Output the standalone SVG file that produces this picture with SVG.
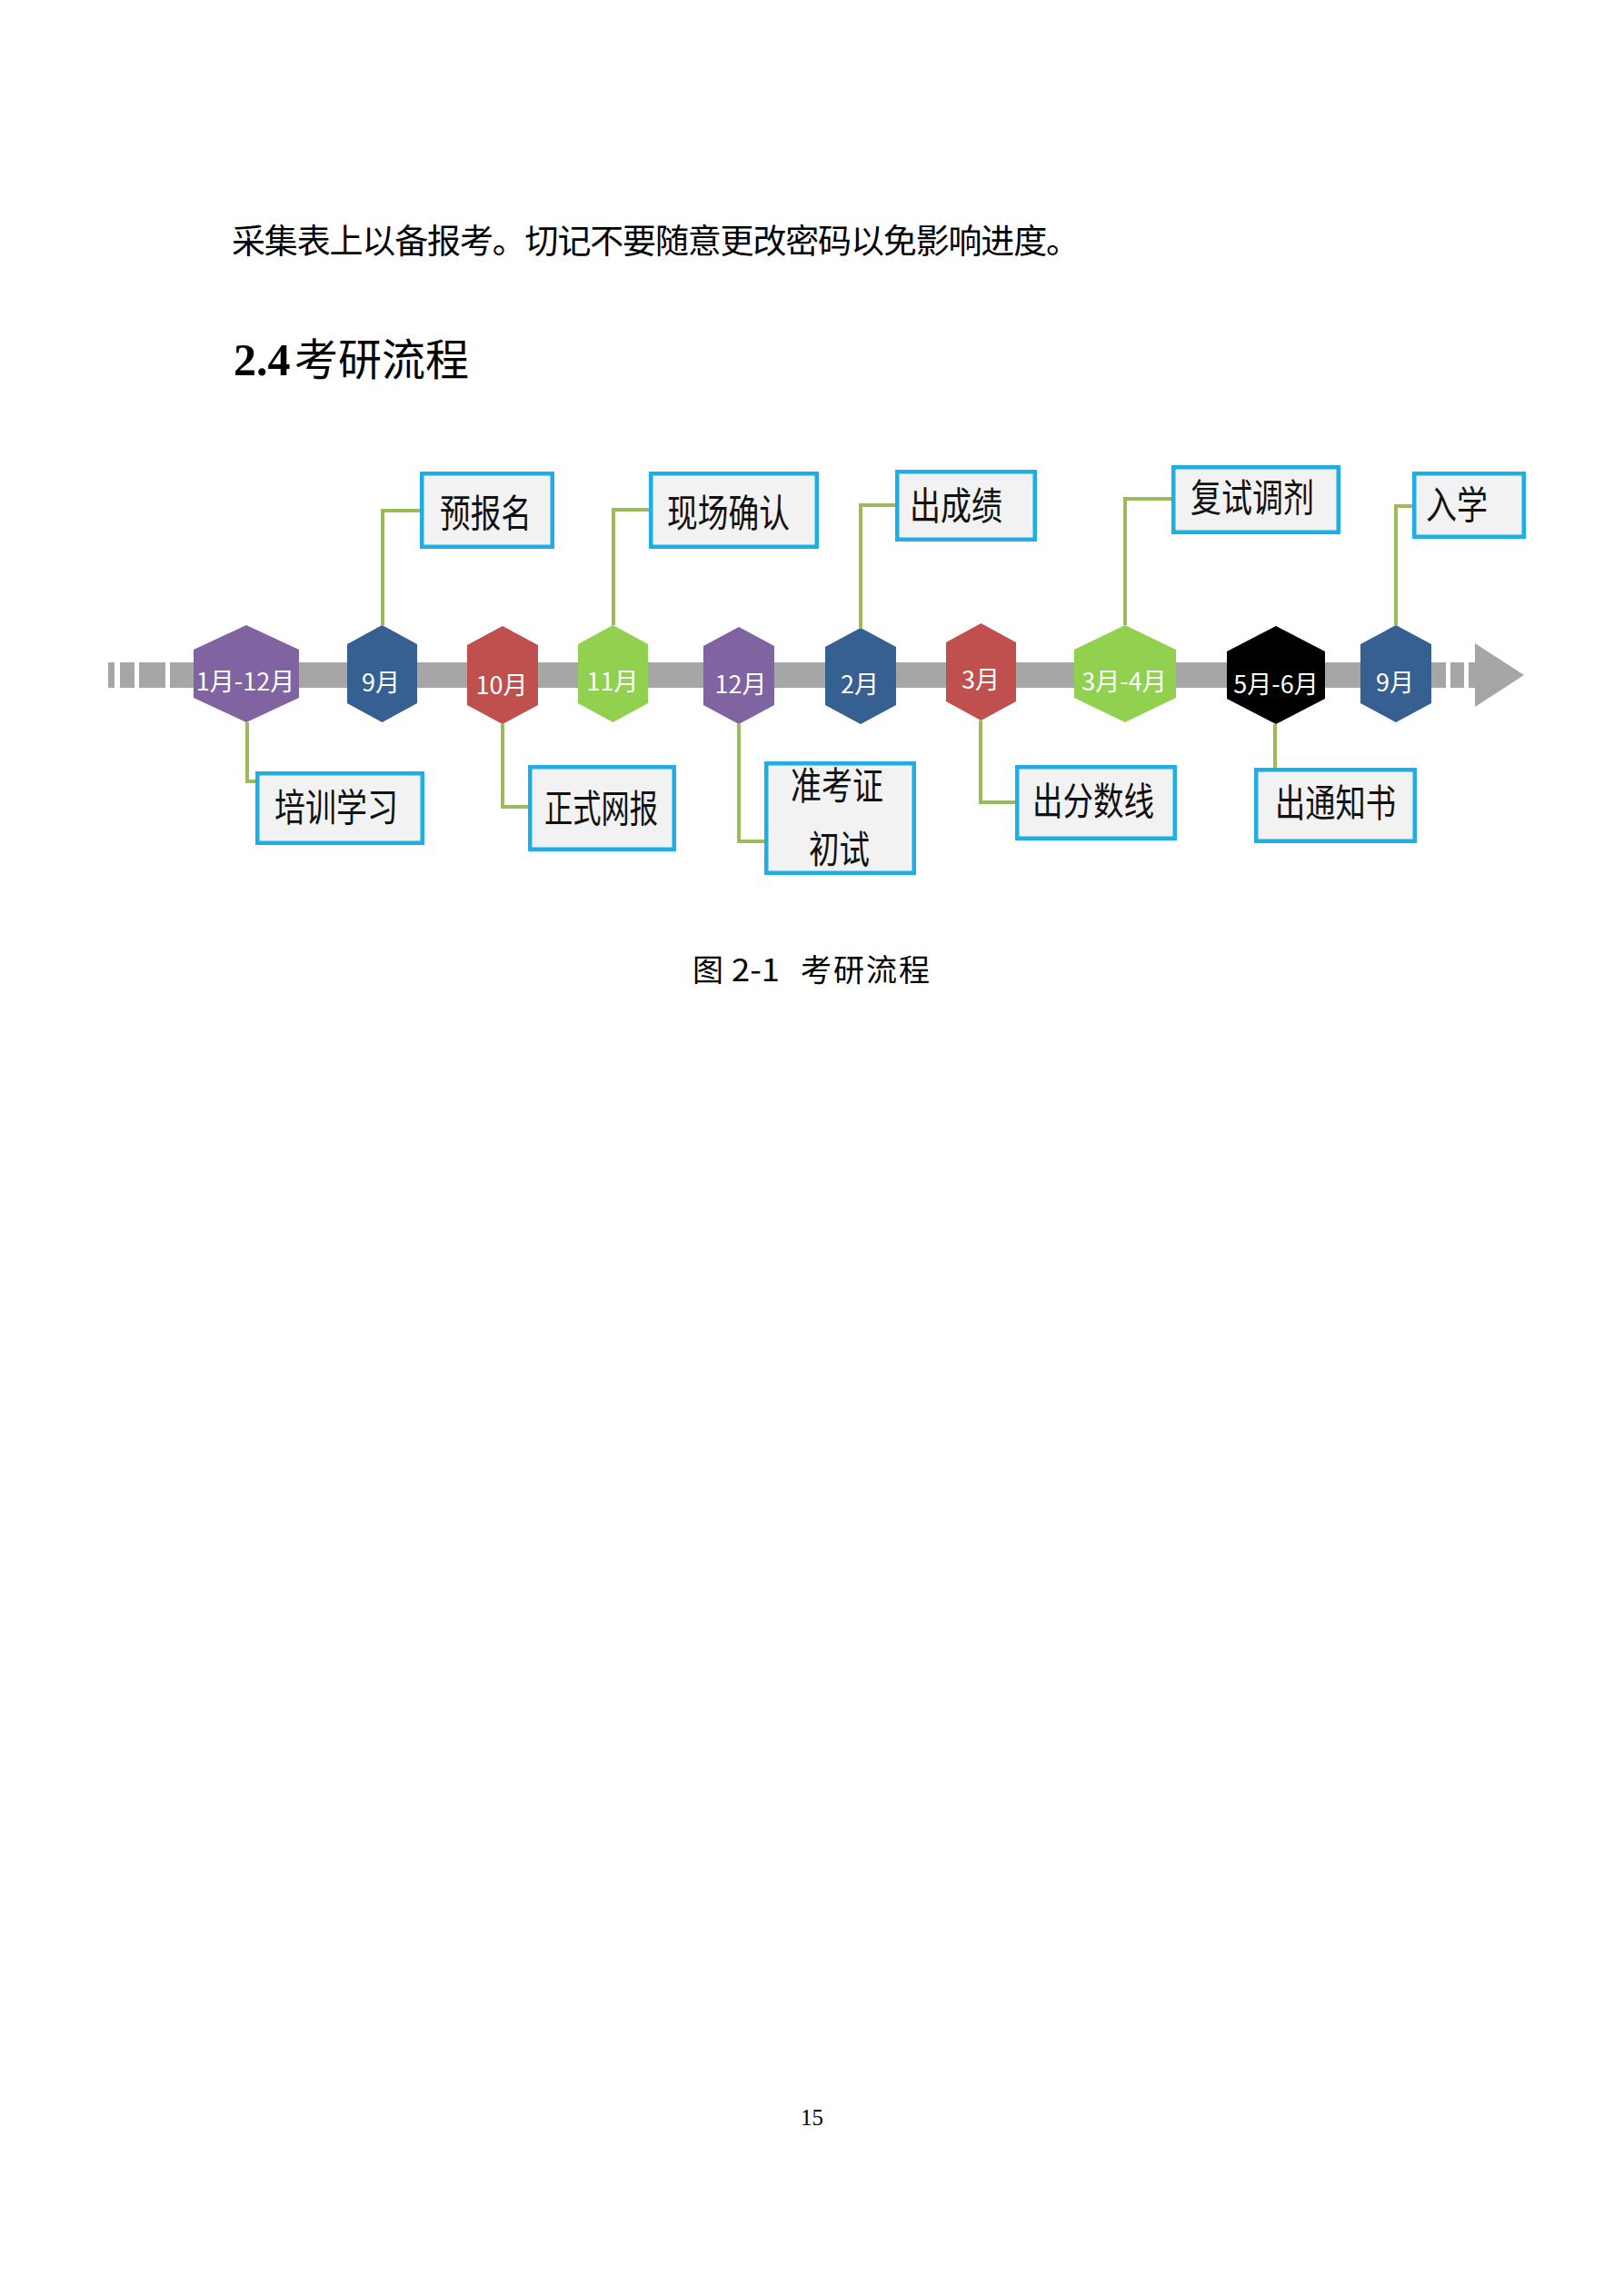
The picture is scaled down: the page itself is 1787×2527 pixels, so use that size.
<svg xmlns="http://www.w3.org/2000/svg" width="1787" height="2527" viewBox="0 0 1787 2527">
<style>
.body{font-family:"Noto Sans CJK SC","Noto Sans",sans-serif;fill:#000}
.bar{fill:#A6A6A6}
.conn{fill:none;stroke:#9BBB59;stroke-width:4}
.box{fill:#F2F2F2;stroke:#1EADE4;stroke-width:4.5}
.bt{font-family:"Noto Sans CJK SC","Noto Sans",sans-serif;font-size:42px;fill:#111}
.ht{font-family:"Noto Sans CJK SC","Noto Sans",sans-serif;font-size:27px;fill:#fff;text-anchor:middle}
.purple{fill:#8064A2}.blue{fill:#366092}.red{fill:#C0504D}.green{fill:#92D050}.black{fill:#000}
</style>
<rect width="1787" height="2527" fill="#fff"/>
<text class="body" x="255" y="279" font-size="37" textLength="933" lengthAdjust="spacing">采集表上以备报考。切记不要随意更改密码以免影响进度。</text>
<text x="257" y="413"><tspan font-family="'Liberation Serif',serif" font-weight="bold" font-size="50">2.4</tspan><tspan x="324" font-family="'Noto Sans CJK SC',sans-serif" font-size="48">考研流程</tspan></text>

<g id="timeline">
<rect class="bar" x="119" y="729" width="7" height="28"/>
<rect class="bar" x="132" y="729" width="16" height="28"/>
<rect class="bar" x="153" y="729" width="29" height="28"/>
<rect class="bar" x="187" y="729" width="1404" height="28"/>
<rect class="bar" x="1596" y="729" width="15" height="28"/>
<rect class="bar" x="1616" y="729" width="9" height="28"/>
<polygon class="bar" points="1623,708 1677,743 1623,778"/>
</g>

<g id="connectors">
<path class="conn" d="M272 795V860H283"/>
<path class="conn" d="M421 688V562H464"/>
<path class="conn" d="M553 797V888H583"/>
<path class="conn" d="M675 688V561H716"/>
<path class="conn" d="M813 797V926H843"/>
<path class="conn" d="M947 691V556H987"/>
<path class="conn" d="M1079 793V883H1119"/>
<path class="conn" d="M1238 688V549H1291"/>
<path class="conn" d="M1403 797V847"/>
<path class="conn" d="M1536 688V557H1556"/>
</g>

<g id="m1"><polygon class="purple" points="271,688 329,715 329,768 271,795 213,768 213,715"/><text class="ht" x="270" y="760">1月-12月</text></g>
<g id="m2"><polygon class="blue" points="420.5,688 459,709 459,774 420.5,795 382,774 382,709"/><text class="ht" x="419" y="761">9月</text></g>
<g id="m3"><polygon class="red" points="553,689 592,710 592,776 553,797 514,776 514,710"/><text class="ht" x="552" y="764">10月</text></g>
<g id="m4"><polygon class="green" points="674.5,688 713,709 713,774 674.5,795 636,774 636,709"/><text class="ht" x="674" y="760">11月</text></g>
<g id="m5"><polygon class="purple" points="813,690 852,711 852,776 813,797 774,776 774,711"/><text class="ht" x="815" y="763">12月</text></g>
<g id="m6"><polygon class="blue" points="947,691 986,712 986,776 947,797 908,776 908,712"/><text class="ht" x="946" y="763">2月</text></g>
<g id="m7"><polygon class="red" points="1079.5,686 1118,707 1118,772 1079.5,793 1041,772 1041,707"/><text class="ht" x="1079" y="758">3月</text></g>
<g id="m8"><polygon class="green" points="1238,688 1294,715 1294,768 1238,795 1182,768 1182,715"/><text class="ht" x="1237" y="760">3月-4月</text></g>
<g id="m9"><polygon class="black" points="1404,689 1458,717 1458,769 1404,797 1350,769 1350,717"/><text class="ht" x="1404" y="763">5月-6月</text></g>
<g id="m10"><polygon class="blue" points="1536,688 1575,709 1575,774 1536,795 1497,774 1497,709"/><text class="ht" x="1535" y="761">9月</text></g>

<g id="b1"><rect class="box" x="464.25" y="521.25" width="143.5" height="80.5"/><text class="bt" x="484" y="580" textLength="101" lengthAdjust="spacingAndGlyphs">预报名</text></g>
<g id="b2"><rect class="box" x="283.25" y="851.25" width="181.5" height="76.5"/><text class="bt" x="302" y="904" textLength="136" lengthAdjust="spacingAndGlyphs">培训学习</text></g>
<g id="b3"><rect class="box" x="583.25" y="844.25" width="158.5" height="90.5"/><text class="bt" x="599" y="905" textLength="125" lengthAdjust="spacingAndGlyphs">正式网报</text></g>
<g id="b4"><rect class="box" x="716.25" y="521.25" width="182.5" height="80.5"/><text class="bt" x="734" y="580" textLength="135" lengthAdjust="spacingAndGlyphs">现场确认</text></g>
<g id="b5"><rect class="box" x="843.25" y="840.25" width="162.5" height="120.5"/><text class="bt" x="870" y="880" textLength="102" lengthAdjust="spacingAndGlyphs">准考证</text><text class="bt" x="890" y="950" textLength="67" lengthAdjust="spacingAndGlyphs">初试</text></g>
<g id="b6"><rect class="box" x="987.25" y="519.25" width="151.5" height="74.5"/><text class="bt" x="1001" y="572" textLength="102" lengthAdjust="spacingAndGlyphs">出成绩</text></g>
<g id="b7"><rect class="box" x="1119.25" y="844.25" width="173.5" height="78.5"/><text class="bt" x="1136" y="897" textLength="134" lengthAdjust="spacingAndGlyphs">出分数线</text></g>
<g id="b8"><rect class="box" x="1291.25" y="514.25" width="181.5" height="71.5"/><text class="bt" x="1310" y="563" textLength="136" lengthAdjust="spacingAndGlyphs">复试调剂</text></g>
<g id="b9"><rect class="box" x="1382.25" y="847.25" width="174.5" height="78.5"/><text class="bt" x="1403" y="899" textLength="133" lengthAdjust="spacingAndGlyphs">出通知书</text></g>
<g id="b10"><rect class="box" x="1556.25" y="521.25" width="120.5" height="69.5"/><text class="bt" x="1569" y="571" textLength="68" lengthAdjust="spacingAndGlyphs">入学</text></g>

<text class="body" y="1080" font-size="34"><tspan x="762">图</tspan><tspan x="805" textLength="53" lengthAdjust="spacingAndGlyphs">2-1</tspan><tspan x="881" textLength="142" lengthAdjust="spacing">考研流程</tspan></text>
<text x="881" y="2339" font-family="'Liberation Serif',serif" font-size="25">15</text>
</svg>
